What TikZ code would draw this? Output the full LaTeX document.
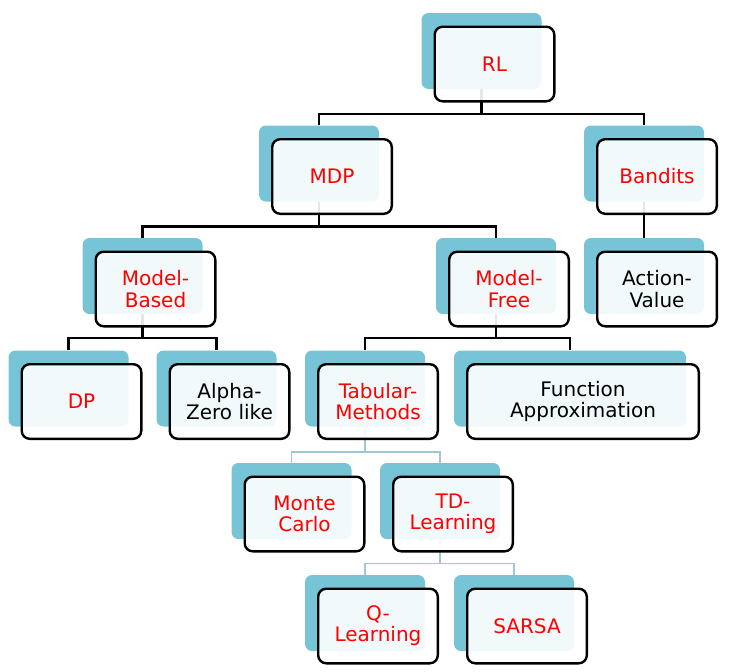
\documentclass[tikz,border=0pt]{standalone}
\usepackage{fontspec}
\setmainfont{DejaVu Sans}
\usetikzlibrary{calc}
\pgfdeclarelayer{bg}
\pgfsetlayers{bg,main}
\definecolor{bbox}{RGB}{120,196,215}
\definecolor{thinc}{RGB}{160,200,212}
\tikzset{
  front/.style={draw=black, line width=2.4pt, fill=white, fill opacity=0.9, text opacity=1,
    rounded corners=8pt, minimum height=74.6pt, align=center, inner sep=0pt,
    font=\fontsize{20}{21.2}\selectfont},
  back/.style={fill=bbox, rounded corners=7pt, minimum height=76pt, inner sep=0pt},
  conn/.style={line width=2.4pt, draw=black},
  thinconn/.style={line width=1.2pt, draw=thinc},
}
\newcommand\tn[6]{%
  \node[back, minimum width=#4pt-2pt] (#1b) at ({#2-13},{#3-13}) {};
  \node[front, minimum width=#4pt-2.4pt, text=#6] (#1) at (#2,#3) {#5};
}
\begin{document}
\begin{tikzpicture}[x=1pt,y=-1pt]
\useasboundingbox (0,0) rectangle (739,672);
\tn{rl}{494.5}{64}{122}{RL}{red}
\tn{mdp}{332}{176.5}{122}{MDP}{red}
\tn{ban}{657}{176.5}{122}{Bandits}{red}
\tn{mb}{155.5}{289}{122}{Model-\\Based}{red}
\tn{mf}{509}{289}{122}{Model-\\Free}{red}
\tn{av}{657}{289}{122}{Action-\\Value}{black}
\tn{dp}{81.5}{401.5}{122}{DP}{red}
\tn{az}{229.5}{401.5}{122}{Alpha-\\Zero like}{black}
\tn{tab}{378}{401.5}{122}{Tabular-\\Methods}{red}
\tn{fa}{583}{401.5}{234}{Function\\Approximation}{black}
\tn{mc}{304.5}{514}{122}{Monte\\Carlo}{red}
\tn{td}{453}{514}{122}{TD-\\Learning}{red}
\tn{q}{378}{626}{122}{Q-\\Learning}{red}
\tn{sarsa}{527}{626}{122}{SARSA}{red}
\coordinate (ya) at (0,114);
\coordinate (yb) at (0,226.5);
\coordinate (yc) at (0,338);
\coordinate (yd) at (0,452);
\coordinate (ye) at (0,563.5);
\begin{pgfonlayer}{bg}
  \draw[conn] (rlb.south) -- (rlb.south |- ya);
  \draw[conn] (mdpb.north) -- (mdpb.north |- ya) -- (banb.north |- ya) -- (banb.north);
  \draw[conn] (mdpb.south) -- (mdpb.south |- yb);
  \draw[conn] (mbb.north) -- (mbb.north |- yb) -- (mfb.north |- yb) -- (mfb.north);
  \draw[conn] (banb.south) -- (avb.north);
  \draw[conn] (mbb.south) -- (mbb.south |- yc);
  \draw[conn] (dpb.north) -- (dpb.north |- yc) -- (azb.north |- yc) -- (azb.north);
  \draw[conn] (mfb.south) -- (mfb.south |- yc);
  \draw[conn] (tabb.north) -- (tabb.north |- yc) -- (fab.north |- yc) -- (fab.north);
  \draw[thinconn] (tabb.south) -- (tabb.south |- yd);
  \draw[thinconn] (mcb.north) -- (mcb.north |- yd) -- (tdb.north |- yd) -- (tdb.north);
  \draw[thinconn] (tdb.south) -- (tdb.south |- ye);
  \draw[thinconn] (qb.north) -- (qb.north |- ye) -- (sarsab.north |- ye) -- (sarsab.north);
\end{pgfonlayer}
\end{tikzpicture}
\end{document}
